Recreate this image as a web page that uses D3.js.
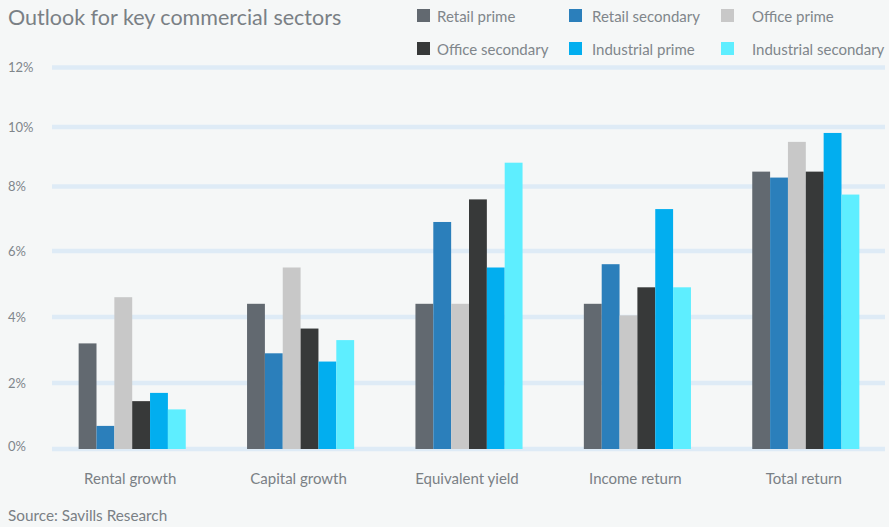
<!DOCTYPE html>
<head>
    <script src="https://d3js.org/d3.v7.min.js"></script>
    <style>
body {
  margin: 0;
  background: #f5f7f7;
  font-family: "Lato", "Open Sans", sans-serif;
}
</style>
</head>
<body>
    <svg></svg>
</body>

<script>
    // data
    var categories = ["Rental growth", "Capital growth", "Equivalent yield", "Income return", "Total return"];
    var series = ["Retail prime", "Retail secondary", "Office prime", "Office secondary", "Industrial prime", "Industrial secondary"];
    var retailPrime        = [3.2, 4.4, 4.4, 4.4, 8.5];
    var retailSecondary    = [0.7, 2.9, 6.9, 5.6, 8.3];
    var officePrime        = [4.6, 5.5, 4.4, 4.05, 9.5];
    var officeSecondary    = [1.45, 3.65, 7.6, 4.9, 8.5];
    var industrialPrime    = [1.7, 2.65, 5.5, 7.3, 9.8];
    var industrialSecondary = [1.2, 3.3, 8.8, 4.9, 7.75];
    var yTicks = [0, 2, 4, 6, 8, 10, 12];

    var values = [retailPrime, retailSecondary, officePrime, officeSecondary, industrialPrime, industrialSecondary];
    var colors = ["#626970", "#2b7fbb", "#c8c8c8", "#373939", "#02aeef", "#5eeeff"];

    var width = 889, height = 527;

    var svg = d3.select('svg')
        .attr('width', width)
        .attr('height', height);

    svg.append('rect').attr('width', width).attr('height', height).attr('fill', '#f5f7f7');

    // the source axis isn't evenly spaced, so follow its gridlines piece by piece
    var y = d3.scaleLinear()
        .domain(yTicks)
        .range([449, 383, 317, 251, 186.5, 127, 67.5]);

    var x0 = d3.scaleBand()
        .domain(categories)
        .range([48, 890])
        .paddingInner(0.364)
        .paddingOuter(0.182);

    var x1 = d3.scaleBand()
        .domain(series)
        .range([0, x0.bandwidth()]);

    // gridlines + tick labels
    svg.append('g').selectAll('line')
        .data(yTicks)
        .enter().append('line')
        .attr('x1', 52).attr('x2', 885)
        .attr('y1', function (d) { return y(d); })
        .attr('y2', function (d) { return y(d); })
        .style('stroke', '#deebf6')
        .style('stroke-width', 4.5);

    svg.append('g').selectAll('text')
        .data(yTicks)
        .enter().append('text')
        .attr('x', 8)
        .attr('y', function (d) { return y(d) - (d === 0 ? 3 : 0); })
        .attr('dy', '.35em')
        .style('font-size', '13px')
        .style('fill', '#80868b')
        .text(function (d) { return d + '%'; });

    // bars
    var groups = svg.append('g').selectAll('g')
        .data(categories)
        .enter().append('g')
        .attr('transform', function (d) { return 'translate(' + x0(d) + ',0)'; });

    groups.selectAll('rect')
        .data(function (d, i) { return series.map(function (s, j) { return { s: s, v: values[j][i], c: colors[j] }; }); })
        .enter().append('rect')
        .attr('x', function (d) { return x1(d.s); })
        .attr('width', x1.bandwidth())
        .attr('y', function (d) { return y(d.v); })
        .attr('height', function (d) { return y(0) - y(d.v); })
        .style('fill', function (d) { return d.c; });

    // category labels
    svg.append('g').selectAll('text')
        .data(categories)
        .enter().append('text')
        .attr('x', function (d) { return x0(d) + x0.bandwidth() / 2 - 2; })
        .attr('y', 484)
        .style('text-anchor', 'middle')
        .style('font-size', '15px')
        .style('fill', '#7a8085')
        .text(function (d) { return d; });

    // title + source
    svg.append('text')
        .attr('x', 8).attr('y', 25)
        .style('font-size', '21.5px')
        .style('fill', '#7a8085')
        .text('Outlook for key commercial sectors');

    svg.append('text')
        .attr('x', 8).attr('y', 521)
        .style('font-size', '15.3px')
        .style('fill', '#7a8085')
        .text('Source: Savills Research');

    // legend, 3 per row
    var legendX = [417, 569, 721];
    var legendTextX = [437, 592, 752];
    var legend = svg.append('g').selectAll('g')
        .data(series)
        .enter().append('g')
        .attr('transform', function (d, i) { return 'translate(0,' + (Math.floor(i / 3) * 33) + ')'; });

    legend.append('rect')
        .attr('x', function (d, i) { return legendX[i % 3]; })
        .attr('y', 9)
        .attr('width', 13).attr('height', 13)
        .style('fill', function (d, i) { return colors[i]; });

    legend.append('text')
        .attr('x', function (d, i) { return legendTextX[i % 3]; })
        .attr('y', 21.5)
        .style('font-size', '15px')
        .style('fill', '#80868b')
        .text(function (d) { return d; });
</script>
